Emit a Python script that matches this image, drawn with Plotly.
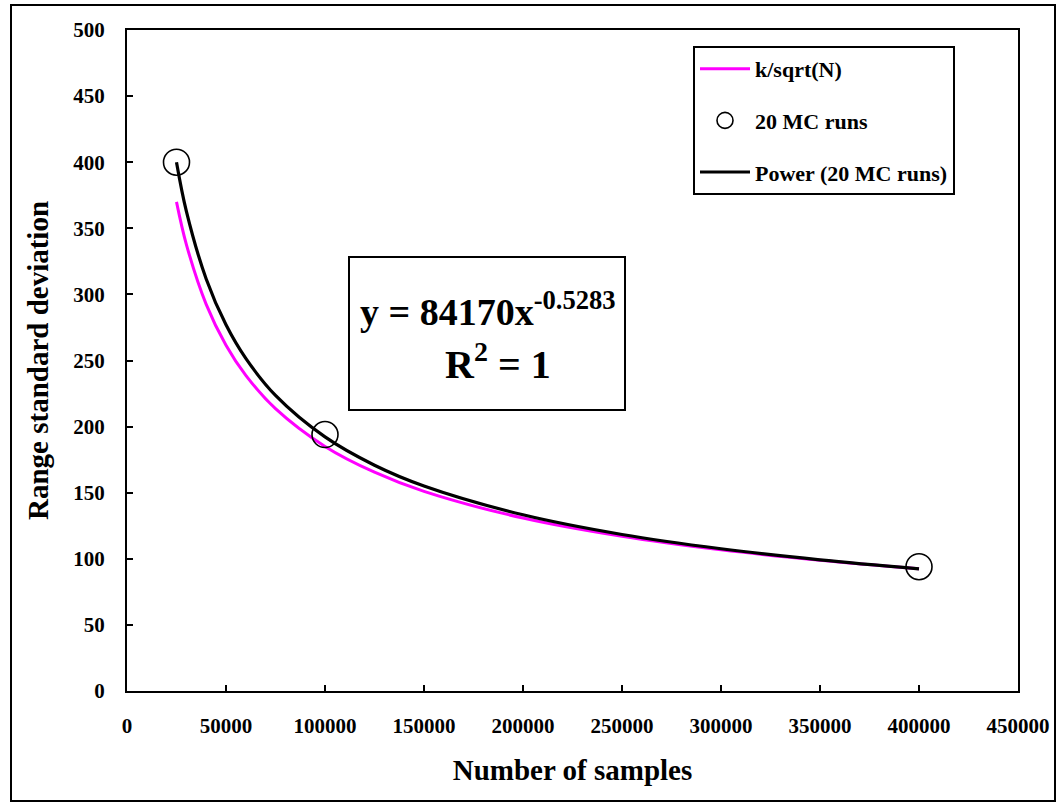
import plotly.graph_objects as go

# ---- data ----
curve_x = [25000, 30000, 40000, 50000, 60000, 75000, 100000, 125000, 150000,
           200000, 250000, 300000, 350000, 400000]
k_sqrt_y = [370, 337.7, 292.5, 261.6, 238.8, 213.6, 185.0, 165.5, 151.0,
            130.8, 117.0, 106.8, 98.9, 92.5]
power_y = [400, 362.8, 311.7, 277.0, 251.6, 223.6, 192.2, 170.8, 155.1,
           133.3, 118.4, 107.6, 99.2, 92.4]
mc_x = [25000, 100000, 400000]
mc_y = [400, 194, 94]

x_ticks = [0, 50000, 100000, 150000, 200000, 250000, 300000, 350000, 400000, 450000]
y_ticks = [0, 50, 100, 150, 200, 250, 300, 350, 400, 450, 500]

FONT = '"Liberation Serif", "Times New Roman", serif'

W, H = 1057, 803
L, R, T, B = 127, 1018, 30, 691


def px(xp):
    return (xp - L) / (R - L)


def py(yp):
    return (B - yp) / (B - T)


fig = go.Figure()
fig.add_trace(go.Scatter(
    x=curve_x, y=k_sqrt_y, mode="lines", name="k/sqrt(N)",
    line=dict(color="#FF00FF", width=3, shape="spline"),
    legendgroup="a"))
fig.add_trace(go.Scatter(
    x=mc_x, y=mc_y, mode="markers", name="20 MC runs",
    marker=dict(symbol="circle-open", size=26, color="black",
                line=dict(color="black", width=1.6)),
    legendgroup="b"))
fig.add_trace(go.Scatter(
    x=curve_x, y=power_y, mode="lines", name="Power (20 MC runs)",
    line=dict(color="black", width=3.2, shape="spline"),
    legendgroup="c"))

axis_common = dict(
    showline=True, linecolor="black", linewidth=2, mirror=True,
    ticks="inside", ticklen=6, tickwidth=2, tickcolor="black",
    showgrid=False, zeroline=False,
    tickfont=dict(family=FONT, size=21, color="black", weight="bold"),
)

fig.update_xaxes(
    range=[0, 450000], tickvals=x_ticks, ticktext=[str(v) for v in x_ticks],
    ticklabelstandoff=15,
    title=dict(text="Number of samples", standoff=22,
               font=dict(family=FONT, size=29, color="black", weight="bold")),
    **axis_common)
fig.update_yaxes(
    range=[0, 500], tickvals=y_ticks, ticktext=[str(v) for v in y_ticks],
    ticklabelstandoff=16,
    title=dict(text="Range standard deviation", standoff=16,
               font=dict(family=FONT, size=29, color="black", weight="bold")),
    **axis_common)

# outer chart border
fig.add_shape(type="rect", xref="paper", yref="paper",
              x0=px(11), x1=px(1055), y0=py(801), y1=py(5),
              line=dict(color="black", width=2), layer="below")
# equation box
fig.add_shape(type="rect", xref="paper", yref="paper",
              x0=px(349), x1=px(625), y0=py(410), y1=py(257),
              line=dict(color="black", width=2), fillcolor="white")
fig.add_annotation(xref="paper", yref="paper", x=px(488), y=py(309),
                   text="y = 84170x<sup>-0.5283</sup>", showarrow=False,
                   font=dict(family=FONT, size=38, color="black", weight="bold"))
fig.add_annotation(xref="paper", yref="paper", x=px(498), y=py(361),
                   text="R<sup>2</sup> = 1", showarrow=False,
                   font=dict(family=FONT, size=40, color="black", weight="bold"))

fig.update_layout(
    width=W, height=H,
    margin=dict(l=L, r=W - R, t=T, b=H - B, autoexpand=False),
    paper_bgcolor="white", plot_bgcolor="white",
    showlegend=True,
    legend=dict(
        x=px(693), y=py(46), xanchor="left", yanchor="top",
        bordercolor="black", borderwidth=2, bgcolor="white",
        font=dict(family=FONT, size=22, color="black", weight="bold"),
        traceorder="grouped", tracegroupgap=20, itemwidth=50,
    ),
)

fig.write_html("out.html")
